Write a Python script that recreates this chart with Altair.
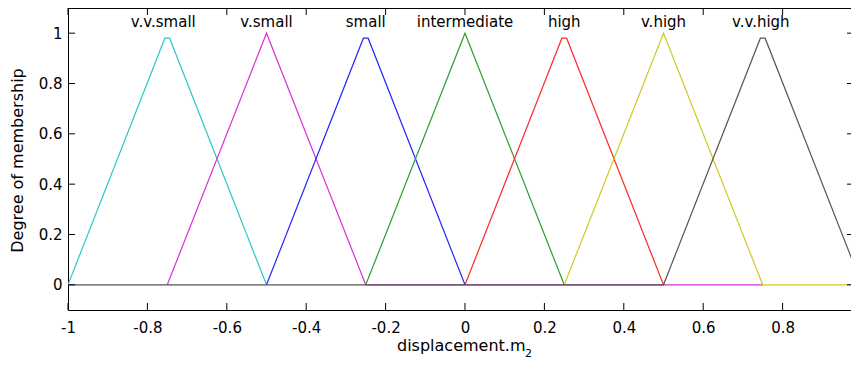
import altair as alt
import pandas as pd

# membership functions (vertices)
names = ["v.v.small", "v.small", "small", "intermediate", "high", "v.high", "v.v.high"]
colors = ["#2CC8C8", "#D633D6", "#2424FF", "#2E9E2E", "#FF2A2A", "#CCCC22", "#555555"]
mf_x = [
    [-1.0, -0.756, -0.744, -0.5],
    [-0.75, -0.5, -0.25, 0.75],
    [-0.5, -0.256, -0.244, 0.0],
    [-0.25, 0.0, 0.25],
    [0.0, 0.244, 0.256, 0.5],
    [0.25, 0.5, 0.75, 1.0],
    [-1.0, 0.5, 0.744, 0.756, 1.0],
]
mf_y = [
    [0, 0.98, 0.98, 0],
    [0, 1.0, 0, 0],
    [0, 0.98, 0.98, 0],
    [0, 1.0, 0],
    [0, 0.98, 0.98, 0],
    [0, 1.0, 0, 0],
    [0, 0, 0.98, 0.98, 0],
]
label_x = [-0.76, -0.5, -0.25, 0.0, 0.25, 0.5, 0.745]
label_y = [1.025] * 7

x_ticks = [-1, -0.8, -0.6, -0.4, -0.2, 0, 0.2, 0.4, 0.6, 0.8]
y_ticks = [0, 0.2, 0.4, 0.6, 0.8, 1]

W, H = 783, 302
FONT = "DejaVu Sans"
FS = 15

xs = alt.Scale(domain=[-1, 0.9723], nice=False, zero=False)
ys = alt.Scale(domain=[-0.1, 1.1], nice=False, zero=False)

xaxis = alt.Axis(
    values=x_ticks, title=None, ticks=False, grid=False, domainColor="#000000",
    labelFont=FONT, labelFontSize=FS, labelColor="#000000", labelPadding=10,
    labelExpr="'' + datum.value", labelFlush=False)
yaxis = alt.Axis(
    values=y_ticks, title=None, ticks=False, grid=False, domainColor="#000000",
    labelFont=FONT, labelFontSize=FS, labelColor="#000000", labelPadding=6,
    labelExpr="'' + datum.value")

X = alt.X("x:Q", scale=xs, axis=xaxis)
Y = alt.Y("y:Q", scale=ys, axis=yaxis)

layers = []
for i, nm in enumerate(names):
    df = pd.DataFrame({"x": mf_x[i], "y": mf_y[i], "o": list(range(len(mf_x[i])))})
    layers.append(
        alt.Chart(df).mark_line(color=colors[i], strokeWidth=1.2, clip=True).encode(
            x=X, y=Y, order="o:Q")
    )

top_line = alt.Chart(pd.DataFrame({"a": [0]})).mark_rule(color="#000000", strokeWidth=1).encode(
    x=alt.value(0), x2=alt.value(W), y=alt.value(0.5))

xt = pd.DataFrame({"x": x_ticks})
yt = pd.DataFrame({"y": y_ticks})
xtick_bottom = alt.Chart(xt).mark_rule(color="#000000").encode(
    x=X, y=alt.value(H), y2=alt.value(H - 7))
xtick_top = alt.Chart(xt).mark_rule(color="#000000").encode(
    x=X, y=alt.value(0), y2=alt.value(7))
ytick_left = alt.Chart(yt).mark_rule(color="#000000").encode(
    y=Y, x=alt.value(0), x2=alt.value(7))
ytick_right = alt.Chart(yt).mark_rule(color="#000000").encode(
    y=Y, x=alt.value(W - 4), x2=alt.value(W))

labels = alt.Chart(pd.DataFrame({"n": names, "x": label_x, "y": label_y})).mark_text(
    font=FONT, fontSize=FS, color="#000000", align="center", baseline="alphabetic").encode(
    x=X, y=Y, text="n:N")

xtitle = alt.Chart(pd.DataFrame({"s": ["displacement.m"]})).mark_text(
    font=FONT, fontSize=16, color="#000000", align="left", baseline="alphabetic").encode(
    x=alt.value(329), y=alt.value(343), text="s:N")
xsub = alt.Chart(pd.DataFrame({"s": ["2"]})).mark_text(
    font=FONT, fontSize=11, color="#000000", align="left", baseline="alphabetic").encode(
    x=alt.value(457), y=alt.value(349), text="s:N")
ytitle = alt.Chart(pd.DataFrame({"s": ["Degree of membership"]})).mark_text(
    font=FONT, fontSize=16, color="#000000", align="center", baseline="middle", angle=270).encode(
    x=alt.value(-50), y=alt.value(152.5), text="s:N")

chart = alt.layer(
    *layers, top_line, xtick_bottom, xtick_top, ytick_left, ytick_right,
    labels, xtitle, xsub, ytitle
).properties(
    width=W, height=H,
    autosize=alt.AutoSizeParams(type="none"),
    padding={"left": 60, "top": 0, "right": 0, "bottom": 50},
).configure_view(stroke=None).configure(background="#FFFFFF")

chart.save("out.html", embed_options={"renderer": "svg", "actions": False})
